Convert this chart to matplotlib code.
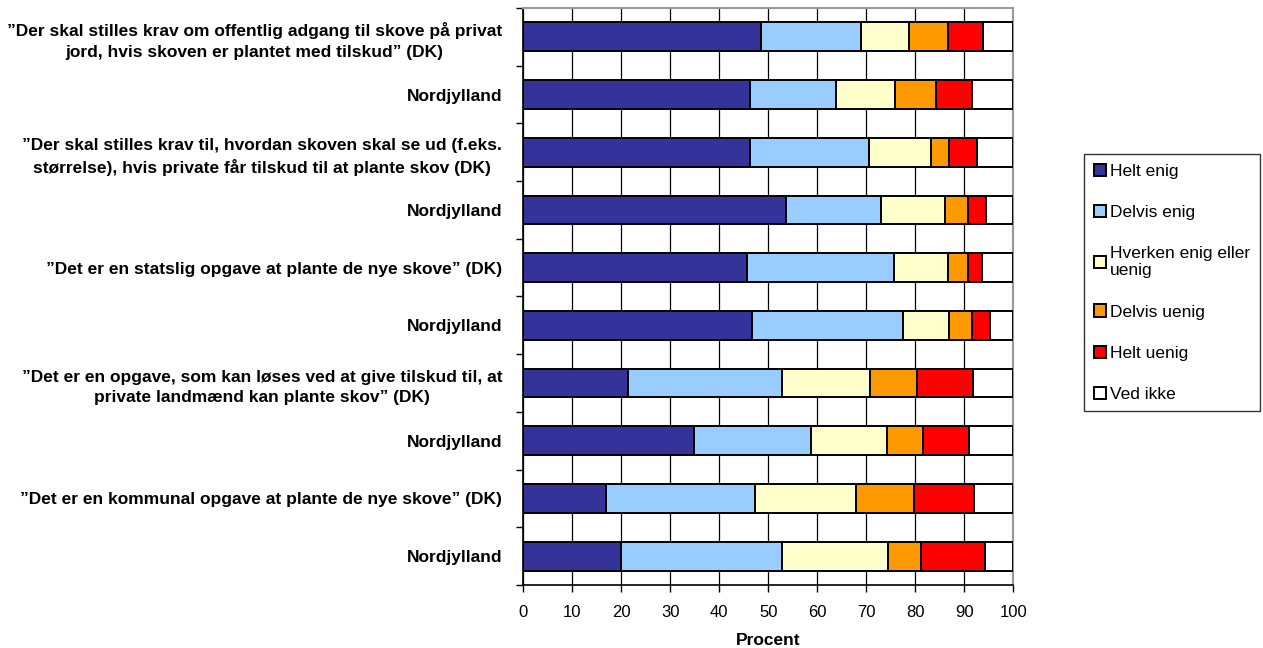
import numpy as np
import matplotlib
matplotlib.use("Agg")
import matplotlib.pyplot as plt

plt.rcParams['font.family'] = ['Liberation Sans', 'DejaVu Sans']

# questions, top to bottom
labels = [
    "\u201dDer skal stilles krav om offentlig adgang til skove på privat\njord, hvis skoven er plantet med tilskud\u201d (DK)",
    "Nordjylland",
    "\u201dDer skal stilles krav til, hvordan skoven skal se ud (f.eks.\nstørrelse), hvis private får tilskud til at plante skov (DK)",
    "Nordjylland",
    "\u201dDet er en statslig opgave at plante de nye skove\u201d (DK)",
    "Nordjylland",
    "\u201dDet er en opgave, som kan løses ved at give tilskud til, at\nprivate landmænd kan plante skov\u201d (DK)",
    "Nordjylland",
    "\u201dDet er en kommunal opgave at plante de nye skove\u201d (DK)",
    "Nordjylland",
]

series = ["Helt enig", "Delvis enig", "Hverken enig eller\nuenig",
          "Delvis uenig", "Helt uenig", "Ved ikke"]
colors = ["#333399", "#99CCFF", "#FFFFCC", "#FF9900", "#FF0000", "#FFFFFF"]

helt_enig    = [48.5, 46.3, 46.2, 53.6, 45.7, 46.8, 21.5, 34.9, 17.0, 19.9]
delvis_enig  = [20.4, 17.6, 24.4, 19.4, 30.0, 30.8, 31.4, 23.8, 30.4, 33.0]
hverken      = [9.9, 12.0, 12.7, 13.1, 11.0, 9.3, 17.9, 15.6, 20.6, 21.6]
delvis_uenig = [7.9, 8.3, 3.6, 4.6, 4.0, 4.6, 9.5, 7.3, 11.8, 6.7]
helt_uenig   = [7.1, 7.3, 5.6, 3.7, 3.0, 3.7, 11.5, 9.3, 12.1, 13.1]
ved_ikke     = [6.2, 8.5, 7.5, 5.6, 6.3, 4.8, 8.2, 9.1, 8.1, 5.7]

data = [helt_enig, delvis_enig, hverken, delvis_uenig, helt_uenig, ved_ikke]

fig = plt.figure(figsize=(12.63, 6.48), dpi=100)
ax = fig.add_axes([523/1263, 1 - 585/648, 490.3/1263, 577/648])

y = np.arange(len(labels))
left = np.zeros(len(labels))
handles = []
for vals, name, c in zip(data, series, colors):
    b = ax.barh(y, vals, left=left, height=0.5, color=c, edgecolor='black',
                linewidth=1.4, label=name, zorder=3)
    handles.append(b)
    left += np.array(vals)

ax.set_ylim(len(labels) - 0.5, -0.5)
ax.set_xlim(0, 100)
ax.set_xticks(np.arange(0, 101, 10))
ax.tick_params(axis='x', labelsize=12, length=5, width=1, direction='out', pad=9.5)
ax.set_yticks(y)
ax.set_yticklabels(labels, fontsize=12.5, fontweight='bold',
                   multialignment='center', linespacing=1.45)
ax.tick_params(axis='y', which='major', length=0, pad=15)
ax.set_yticks(np.arange(-0.5, len(labels), 1), minor=True)
ax.tick_params(axis='y', which='minor', length=5, width=1)

ax.grid(axis='x', color='black', linewidth=0.9, zorder=0)
ax.set_axisbelow(True)
ax.spines['left'].set_color('black')
ax.spines['bottom'].set_color('black')
ax.spines['left'].set_linewidth(1.2)
ax.spines['bottom'].set_linewidth(1.2)
ax.spines['top'].set_color('#999999')
ax.spines['right'].set_color('#999999')
ax.spines['top'].set_linewidth(1.5)
ax.spines['right'].set_linewidth(1.5)

ax.set_xlabel("Procent", fontsize=12.5, fontweight='bold', labelpad=9)

leg = fig.legend(handles=handles, labels=series, loc='upper left',
                 bbox_to_anchor=(1084/1263, 1 - 154/648), fontsize=12.5,
                 frameon=True, fancybox=False, edgecolor='black',
                 handlelength=0.7, handleheight=0.7, handletextpad=0.25,
                 labelspacing=1.5, borderpad=0.55, borderaxespad=0)
leg.get_frame().set_linewidth(1.0)
for t in leg.get_texts():
    t.set_multialignment('left')

fig.savefig("out.png", dpi=100)
